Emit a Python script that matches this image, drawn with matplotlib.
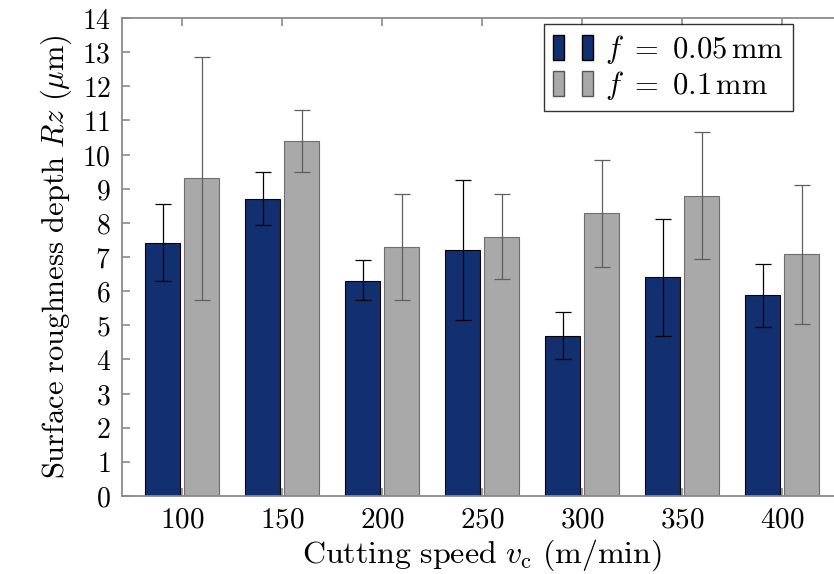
import matplotlib
matplotlib.use("Agg")
import matplotlib.pyplot as plt
import numpy as np
from matplotlib.patches import Patch
from matplotlib.legend_handler import HandlerTuple

# data
speeds = [100, 150, 200, 250, 300, 350, 400]
rz_005 = [7.4, 8.7, 6.3, 7.2, 4.7, 6.4, 5.9]
lo_005 = [6.3, 7.95, 5.75, 5.15, 4.0, 4.7, 4.95]
hi_005 = [8.55, 9.5, 6.9, 9.25, 5.4, 8.1, 6.8]
rz_01 = [9.3, 10.4, 7.3, 7.6, 8.3, 8.8, 7.1]
lo_01 = [5.75, 9.5, 5.75, 6.35, 6.7, 6.95, 5.05]
hi_01 = [12.85, 11.3, 8.85, 8.85, 9.85, 10.65, 9.1]

BLUE = "#12306f"
GRAY = "#a9a9a9"
AXC = "#8a8a8a"

plt.rcParams["mathtext.fontset"] = "cm"
plt.rcParams["font.family"] = "DejaVu Serif"

fig = plt.figure(figsize=(8.34, 5.74), dpi=100)
ax = fig.add_axes([0.1463, 0.1359, 0.8633, 0.8327])

x = np.array(speeds, dtype=float)
w, off = 17.5, 9.75
ax.bar(x - off, rz_005, width=w, color=BLUE, edgecolor="black",
       linewidth=0.8, zorder=2)
ax.bar(x + off, rz_01, width=w, color=GRAY, edgecolor="#6e6e6e",
       linewidth=0.8, zorder=2)

m1 = np.array(rz_005); m2 = np.array(rz_01)
ax.errorbar(x - off, m1, yerr=[m1 - np.array(lo_005), np.array(hi_005) - m1],
            fmt="none", ecolor="black", elinewidth=0.9, capsize=5.8,
            capthick=0.9, zorder=3)
ax.errorbar(x + off, m2, yerr=[m2 - np.array(lo_01), np.array(hi_01) - m2],
            fmt="none", ecolor="#5f5f5f", elinewidth=0.9, capsize=5.8,
            capthick=0.9, zorder=3)

ax.set_xlim(70, 430)
ax.set_ylim(0, 14)
ax.set_xticks(speeds)
ax.set_xticklabels([f"${s}$" for s in speeds], fontsize=21)
ax.set_yticks(range(0, 15))
ax.set_yticklabels([f"${v}$" for v in range(0, 15)], fontsize=20)
ax.tick_params(direction="in", top=True, right=False, length=6,
               width=1.2, color=AXC)
ax.tick_params(axis="x", pad=7)
ax.tick_params(axis="y", pad=8)
for sp in ax.spines.values():
    sp.set_color(AXC)
    sp.set_linewidth(1.3)

ax.set_xlabel(r"$\mathrm{Cutting\ speed}\ v_\mathrm{c}\ (\mathrm{m/min})$",
              fontsize=23, labelpad=3)
ax.set_ylabel(r"$\mathrm{Surface\ roughness\ depth}\ Rz\ (\mathrm{\mu m})$",
              fontsize=22, labelpad=6)

h1 = (Patch(facecolor=BLUE, edgecolor="black"), Patch(facecolor=BLUE, edgecolor="black"))
h2 = (Patch(facecolor=GRAY, edgecolor="#555555"), Patch(facecolor=GRAY, edgecolor="#555555"))
leg = ax.legend([h1, h2],
                [r"$f\ =\ 0.05\,\mathrm{mm}$", r"$f\ =\ 0.1\,\mathrm{mm}$"],
                handler_map={tuple: HandlerTuple(ndivide=None, pad=0.6)},
                loc="upper left", bbox_to_anchor=(544 / 834, 1 - 24 / 574),
                bbox_transform=fig.transFigure, fontsize=22,
                frameon=True, fancybox=False, handlelength=1.3,
                handleheight=0.9, handletextpad=0.4, labelspacing=0.1,
                borderpad=0.3, borderaxespad=0)
leg.get_frame().set_edgecolor("black")
leg.get_frame().set_linewidth(1.0)

fig.savefig("out.png", dpi=100)
